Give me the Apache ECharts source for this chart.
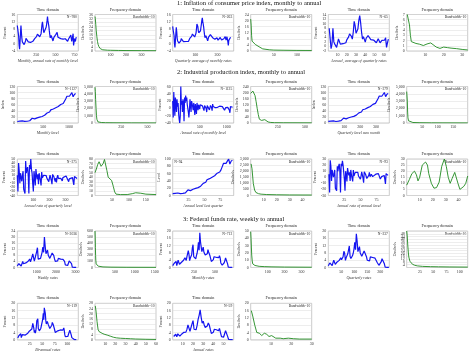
<!DOCTYPE html>
<html>
<head>
<meta charset="utf-8">
<script src="https://cdn.jsdelivr.net/npm/echarts@6/dist/echarts.min.js"></script>
<style>
html, body { margin: 0; padding: 0; background: #fff; }
#chart { width: 470px; height: 357px; }
</style>
</head>
<body>
<div id="chart"></div>
<script>
// ---- data ----
// 1: CPI inflation
var cpiMonthly = [10,8, 9,4, -1,-3, 1,6, 10,6, 3,1, 1,1, 0.5,-0.5, -0.5,0.5, 1.5,3, 3.5,3, 3,2, 1,1.5, 1.5,1.5, 1,0.7, 1.2,1.3,
  1.2,1.6, 1.3,1.2, 1.6,1.9, 2.8,3.5, 2.6,3, 3.9,4.7, 5.2,5.8, 6.1,5.6, 4.6,3.8, 3.2,3.5, 5.5,8, 10.5,12, 10,7.5, 6,5,
  6.5,6.6, 7,9, 10.5,12.5, 14.8,12.5, 11,9.5, 7,5, 3.2,3.5, 4.5,4, 3.5,3.5, 1.5,1.3, 3.5,4.3, 3.9,4.3, 5,4.6, 5,6.2,
  4.8,3.5, 3,3.1, 3,2.7, 2.5,2.8, 2.9,2.6, 2.9,3.3, 2.5,1.8, 1.5,1.6, 2,2.7, 3.5,3.4, 3.3,1.8, 1.3,2.2, 2.6,2.1,
  2.7,3.3, 3,4.7, 4,1.3, 2.5,4, 5.5,-1, -2,2.8, 2.2,1.2, 2.8,3.6];
var cpiQuarterly = [9.5,7.5, 8.5,4.5, 0,-2, 1.5,5.5, 9,6.5, 3,1.5, 1,0.8, 0.3,-0.3, -0.2,0.5, 1.6,2.8, 3.4,3.1, 2.8,2.1,
  1.1,1.5, 1.6,1.4, 1,0.8, 1.2,1.3, 1.2,1.5, 1.3,1.2, 1.6,2, 2.9,3.3, 2.7,3.1, 4,4.6, 5.3,5.7, 6,5.5, 4.5,3.7, 3.3,3.4,
  5.8,8.2, 10.8,11.8, 9.5,7.2, 6,5.1, 6.5,6.5, 7.1,9, 10.8,12.8, 14.2,12.2, 10.8,9.2, 6.8,4.8, 3.3,3.7, 4.4,4, 3.6,3.4,
  1.6,1.5, 3.6,4.3, 4,4.4, 5,4.6, 5.1,6, 4.7,3.3, 3,3.1, 3,2.8, 2.5,2.8, 2.9,2.6, 2.9,3.2, 2.4,1.9, 1.5,1.6, 2,2.6,
  3.4,3.4, 3.2,2, 1.4,2.2, 2.6,2.1, 2.7,3.3, 3.1,3.9, 3.6,2, 2.5,3.8, 4.8,1, -1,1.8, 2.1,1.3, 2.8,3.5];
var cpiAnnual = [8, 8, -1, 1, 8, 2, 1, 0.5, -0.4, 1.5, 3.3, 2.7, 1, 1.5, 1, 1.2, 1.2, 1.3, 1.6, 2.9, 3.1, 4.2, 5.5, 5.7,
  4.4, 3.2, 6.2, 11, 9.1, 5.8, 6.5, 7.6, 11.3, 13.5, 10.3, 6.2, 3.2, 4.3, 3.6, 1.9, 3.6, 4.1, 4.8, 5.4, 4.2, 3, 3, 2.6,
  2.8, 3, 2.3, 1.6, 2.2, 3.4, 2.8, 1.6, 2.3, 2.7, 3.4, 3.2, 2.8, 3.8, -0.4, 1.6, 3.2];
var cpiMonthlySpec = [[0,34],[2,32],[5,26],[8,20],[12,14],[16,9.5],[20,6.5],[25,4.3],[30,3],[35,2.2],[40,1.7],[50,1.2],
  [60,1],[80,0.8],[100,0.7],[150,0.55],[200,0.45],[300,0.35],[393,0.3]];
var cpiQuarterlySpec = [[0,21],[1,17],[2,10],[3,6.5],[5,5.6],[7,5.2],[10,4.3],[14,3.5],[18,2.8],[22,2],[26,1.4],[30,1.1],
  [40,0.8],[50,0.6],[70,0.5],[100,0.4],[132,0.35]];
var cpiAnnualSpec = [[0.3,7],[1,6.8],[1.5,5],[2,3],[2.5,1.8],[3,1.5],[5,1.45],[7,1.3],[9,1.05],[10,1],[11,1.35],[12,1.7],
  [13,1.55],[14,1.2],[16,0.75],[18,0.5],[20,0.75],[22,0.65],[24,0.55],[27,0.45],[30,0.3],[33,0.2]];

// 2: industrial production
var ipMonthly = [5, 4.3, 6, 6.3, 6.7, 7.5, 5.2, 4.8, 5.8, 7.5, 7.4, 11, 15.5, 13, 13.5, 13, 17, 19, 19.5, 21, 21.5, 22,
  25.5, 29.5, 33, 37, 36, 43, 40, 46, 51, 50, 49, 54, 56, 61, 60, 64, 70, 79, 88, 89, 88, 94, 100, 86, 94, 97];
var ipMonthlyRate = [20, -25, 45, 10, -20, 30, 15, -10, 25, 5, 15, -15, -30, -40, -20, 60, 10, 20, -10, 25, 15, -35, 30,
  15, 35, 20, 30, 10, 15, -10, -25, -5, 25, 10, -10, 20, 25, 5, -5, 15, 10, -18, 12, 8, -15, 15, 5, -5, 10, 8, -2, 10, 8,
  6, 10, 7, 2, 4, -6, 8, 10, 6, 0, -10, 8, 9, 4, 5, -4, -8, 8, 6, 2, -6, 12, 5, 4, 5, 4, 2, -3, 4, 5, 3, 6, 5, 4, 6, 6,
  5, 3, 4, 5, 7, 6, 4, -5, -2, 2, 3, 4, 3, 3, 4, 3, -5, -12, 5, 7, 4, 4, 3, 4];
var ipQuarterly = [5.1, 4.5, 6.1, 6.4, 6.8, 7.4, 5, 5, 6, 7.2, 7.6, 11.5, 15.8, 12.5, 13.6, 13.2, 17.3, 19.2, 19.8, 20.8,
  21.8, 22.5, 25.8, 29.8, 33.2, 37.4, 36.2, 43.5, 40.5, 46.2, 51.2, 50.5, 49.5, 54.2, 56.5, 61.2, 60.3, 64.5, 70.5,
  79.5, 88.5, 89.2, 88, 94.5, 100.2, 86.5, 94.5, 97];
var ipQuarterlyRate = [10, -30, 40, 20, -10, 15, 5, -5, 10, 20, -25, -30, -35, 45, 15, 25, 30, 10, -35, 35, 25, 50, 25,
  15, -10, -30, 20, 5, -15, 25, 10, 0, 12, -12, 15, 5, -3, -15, 18, 3, 2, 10, 6, 7, 10, 9, 3, 6, 5, -6, 3, 10, 9, -3,
  -12, 12, 8, 6, 4, -6, 3, -8, 5, 10, 2, 1, 6, 5, 2, 0, -4, 4, 4, 6, 5, 5, 8, 7, 5, 4, -6, 1, 2, 4, 3, 3, 4, -6, -14, 7,
  5, 4, 3, 2];
var ipAnnual = [5, 4.4, 6, 6.3, 6.8, 7.5, 5.2, 4.6, 5.9, 7.6, 7.3, 11.2, 15.6, 12.8, 13.4, 13.1, 17.1, 19.1, 19.6, 21,
  21.6, 22.2, 25.6, 29.6, 33.1, 37.2, 36.1, 43.2, 40.2, 46.1, 51.1, 50.2, 49.2, 54.1, 56.2, 61.1, 60.1, 64.2, 70.2, 79.2,
  88.2, 89.1, 88.1, 94.2, 100.1, 86.2, 94.2, 97];
var ipAnnualRate = [5, -25, 28, 18, -6, 12, 6, 0, 5, 12, -18, -15, -22, 18, 10, 18, 22, 10, -25, 22, 18, 27, 20, 18, -3,
  -22, 10, 4, -7, 15, 8, 3, 8, -6, 12, 4, 1, -7, 12, 2, 1, 8, 5, 6, 9, 8, 2, 5, 4, -3, 2, 9, 8, -1, -9, 9, 7, 5, 3, -2,
  1, -5, 3, 8, 1, 1, 5, 5, 1, 0, -2, 3, 3, 5, 5, 4, 7, 6, 4, 4, -3, 0, 1, 3, 3, 2, 3, -3, -11, 6, 4, 4, 3];
var ipMonthlySpec = [[0,4900],[3,4300],[6,3200],[10,2000],[14,1000],[18,500],[22,250],[28,150],[40,100],[60,70],
  [100,40],[200,25],[350,15],[580,10]];
var ipMonthlyRateSpec = [[0,195],[10,205],[20,210],[30,200],[40,180],[50,140],[60,95],[70,55],[80,25],[90,15],[100,17],
  [115,24],[130,22],[145,14],[160,7],[180,4],[220,2],[300,1.5],[562,1]];
var ipQuarterlySpec = [[0,4300],[1,4200],[2,3000],[3,1500],[4,700],[6,300],[8,200],[12,120],[20,70],[40,40],[80,20],
  [197,10]];
var ipQuarterlyRateSpec = [[0,50],[4,58],[8,68],[12,74],[15,72],[18,64],[21,62],[24,70],[28,79],[31,75],[35,55],[39,40],
  [44,37],[49,33],[54,20],[58,8],[62,3],[75,2],[95,2],[110,4],[120,6],[135,5],[150,3],[180,2]];
var ipAnnualSpec = [[0.3,2600],[1,2200],[2,1000],[3,450],[4,250],[6,150],[8,110],[12,80],[20,60],[30,45],[47,40]];
var ipAnnualRateSpec = [[0,8.5],[2,13],[4,18],[6,20],[7.5,17],[8.7,12],[10,15],[12,25],[14.5,27.5],[16,25],[17,18],
  [19,10],[21,6],[23,6.5],[25,11],[27,24],[29,30],[30.5,24],[32,15],[33.5,10],[35,14],[37,19],[38,18],[39.5,10],[41,5],
  [42.5,5],[44,7.5],[45.5,10],[47,16]];

// 3: federal funds rate
var ffWeekly = [1, 1.5, 2.5, 2.9, 3.5, 1, 2.5, 4, 2.5, 1.8, 2.5, 3, 3.5, 3.5, 4.1, 4.5, 5.6, 3.8, 5.2, 6.5, 9, 6.5, 4.2,
  3.5, 5.3, 10.5, 13, 5.5, 4.8, 5, 6, 7, 10, 13.5, 10, 20, 14, 9, 9.5, 11.5, 8, 8, 6, 6.8, 6.8, 9.5, 8.5, 8, 5.8, 4, 3,
  3, 4.3, 6, 5.5, 5.3, 5.5, 5.5, 4.8, 5.4, 6.5, 4, 1.7, 1.5, 1, 1.3, 2.8, 4.3, 5.25, 5.2, 2.5, 0.2, 0.1, 0.2, 0.1, 0.15,
  0.1];
var ffMonthly = [1, 1.4, 2.2, 2.8, 3, 3.4, 1, 2.5, 4, 3.2, 1.8, 2.2, 2.7, 2.9, 3.5, 3.5, 4, 4.3, 5.3, 4.6, 3.9, 6, 6.8,
  9.2, 7.2, 3.8, 5.2, 4.5, 7, 10.8, 12.5, 6, 5.5, 5.3, 4.7, 6.5, 7.8, 10.1, 13.8, 9.5, 19, 14, 14.2, 8.7, 9.4, 11.2, 8.5,
  8, 6.8, 6.1, 6.9, 7.5, 9.8, 8.5, 8.2, 6.4, 4.9, 3.3, 3, 3, 4.3, 5.9, 5.7, 5.3, 5.3, 5.5, 5.5, 4.8, 5.4, 6.5, 5.3, 2.5,
  1.7, 1.25, 1, 1.3, 2.6, 3.8, 5.2, 5.25, 4.5, 2, 0.18, 0.12, 0.18, 0.14, 0.07, 0.16, 0.14];
var ffQuarterly = [1, 1.5, 2.5, 2.9, 3.1, 1, 2.6, 4, 3, 1.7, 2.4, 2.9, 3.2, 3.5, 3.9, 4.3, 5.3, 4.2, 4.8, 5.9, 8.9, 7.8,
  3.9, 5.4, 4.4, 7.5, 9.6, 11.8, 6, 4.9, 4.7, 6.4, 7.8, 10.1, 13.8, 9.8, 18.5, 14.5, 8.7, 9.4, 11.4, 8, 7.8, 6.2, 6.7,
  6.6, 9.1, 8.6, 8.1, 5.9, 4, 3.1, 3, 3.6, 5.8, 5.8, 5.3, 5.5, 5.5, 5.1, 5.1, 6, 5.6, 2.6, 1.7, 1.2, 1, 1.9, 3.2, 4.8,
  5.25, 4.7, 2, 0.18, 0.12, 0.19, 0.09, 0.14, 0.13];
var ffBiannual = [1, 1.4,2.2, 2.6,2.8, 3,3.3, 1.2,1.9, 2.8,3.8, 3.8,2.5, 1.8,2, 2.6,2.8, 3,3.4, 3.45,3.6, 4,4.2, 4.7,5.4,
  4.3,3.9, 5.6,5.9, 7.5,9, 8.3,6.4, 4,5.2, 3.7,4.8, 7,10.4, 10.5,11.5, 6.2,5.9, 4.9,5.1, 4.7,6.2, 6.9,8.8, 10.1,11.8,
  14.5,11, 17.5,16, 14.5,10.5, 8.7,9.4, 10,10.5, 8.3,7.9, 7.4,6.2, 6.3,6.9, 6.8,8, 9.5,8.8, 8.2,8, 6.2,5.2, 4,3.1, 3,3,
  3.7,4.9, 5.9,5.7, 5.3,5.3, 5.4,5.6, 5.5,5.2, 4.8,5.3, 6,6.5, 5,2.8, 1.7,1.7, 1.25,1, 1,1.8, 2.7,3.6, 4.6,5.25,
  5.25,4.9, 2.6,1.2, 0.16,0.15, 0.15,0.19, 0.12,0.08, 0.14,0.15, 0.13,0.09];
var ffAnnual = [1.8, 2.7, 3.1, 1.6, 3.3, 3.2, 2, 2.7, 3.2, 3.5, 4.1, 5.1, 4.2, 5.7, 8.2, 7.2, 4.7, 4.4, 8.7, 10.5, 5.8, 5,
  5.5, 7.9, 11.2, 13.4, 16.4, 12.3, 9.1, 10.2, 8.1, 6.8, 6.7, 7.6, 9.2, 8.1, 5.7, 3.5, 3, 4.2, 5.8, 5.3, 5.5, 5.4, 5, 6.2,
  3.9, 1.7, 1.1, 1.4, 3.2, 5, 5, 1.9, 0.16, 0.18, 0.1, 0.14, 0.11];
var ffWeeklySpec = [[0,600],[5,500],[10,330],[15,200],[20,120],[30,60],[40,40],[60,28],[80,22],[120,15],[200,10],[400,6],
  [800,4],[1530,3]];
var ffMonthlySpec = [[0,49],[2,40],[4,28],[6,17],[9,9],[12,5],[18,3.5],[25,2.8],[35,2],[50,1.6],[80,1.2],[120,0.9],
  [200,0.6],[360,0.4]];
var ffQuarterlySpec = [[0,52],[1,45],[2,32],[3,22],[4,15],[6,9],[8,6.5],[11,4.5],[15,3.2],[20,2.3],[30,1.6],[45,1.2],
  [60,1],[80,0.8],[115,0.6]];
var ffBiannualSpec = [[0.3,26],[1,22],[2,14],[3,8],[4,6.3],[5,5.8],[7,5],[9,4.3],[12,3.6],[15,2.8],[18,2],[21,1.5],
  [25,1.2],[30,1],[35,0.8],[40,0.6],[50,0.4],[60,0.3]];
var ffAnnualSpec = [[0.3,16],[1,13],[2,8],[3,4],[4.3,3.6],[5.4,2.3],[6.7,3.6],[7.9,3],[9,1.8],[10.3,2.3],[11.2,1.8],
  [12.3,0.9],[14.5,0.9],[16,0.6],[18.5,0.9],[21,0.6],[24,0.4],[30,0.4]];

var sectionTitles = [
  '1: Inflation of consumer price index, monthly to annual',
  '2: Industrial production index, monthly to annual',
  '3: Federal funds rate, weekly to annual'
];

// ---- layout ----
var FONT = '"Liberation Serif", "DejaVu Serif", serif';
var BLUE = '#1414f0', GREEN = '#1f8a1f';
var colLeft = [17.3, 95, 172.7, 250.7, 328.3, 406.7];
var rowTop = [14.5, 86.5, 159, 231, 303.3];
var plotW = 61, plotH = 36.5;

// t = time domain (values with step), f = frequency domain (x,y pairs)
var panels = [
  {r:0,c:0,t:cpiMonthly,step:6,xMax:800,xi:250,y:[-4,16,4],yName:'Percent',xName:'Monthly, annual rate of monthly level',note:'N=780'},
  {r:0,c:1,f:cpiMonthlySpec,xMax:393,xi:100,y:[0,36,4]},
  {r:0,c:2,t:cpiQuarterly,step:2,xMax:272,xi:100,y:[-4,16,4],yName:'Percent',xName:'Quarterly average of monthly rates',note:'N=263'},
  {r:0,c:3,f:cpiQuarterlySpec,xMax:132,xi:50,y:[0,24,4]},
  {r:0,c:4,t:cpiAnnual,step:1,x0:1,xMax:66,xi:10,y:[-2,14,2],yName:'Percent',xName:'Annual, average of quarterly rates',note:'N=65'},
  {r:0,c:5,f:cpiAnnualSpec,xMax:33,xi:10,y:[0,7,1]},

  {r:1,c:0,t:ipMonthly,step:24,xMax:1180,xi:500,y:[0,120,20],yName:'Index',xName:'Monthly level',note:'N=1127'},
  {r:1,c:1,f:ipMonthlySpec,xMax:580,xi:250,y:[0,5000,1000]},
  {r:1,c:2,t:ipMonthlyRate,step:10,xMax:1130,xi:500,y:[-40,60,20],yName:'Percent',xName:'Annual rate of monthly level',note:'N=1125'},
  {r:1,c:3,f:ipMonthlyRateSpec,xMax:562,xi:250,y:[0,240,40]},
  {r:1,c:4,t:ipQuarterly,step:8,xMax:383,xi:100,y:[0,120,20],yName:'Index',xName:'Quarterly level sum month',note:'N=379'},
  {r:1,c:5,f:ipQuarterlySpec,xMax:197,xi:50,y:[0,5000,1000]},

  {r:2,c:0,t:ipQuarterlyRate,step:4,xMax:380,xi:100,y:[-40,50,10],yName:'Percent',xName:'Annual rate of quarterly level',note:'N=375'},
  {r:2,c:1,f:ipQuarterlyRateSpec,xMax:180,xi:50,y:[0,80,10]},
  {r:2,c:2,t:ipAnnual,step:2,xMax:96,xi:25,y:[0,100,20],yName:'Level',xName:'Annual level last quarter',note:'N=94',noteLeft:true},
  {r:2,c:3,f:ipAnnualSpec,xMax:47,xi:10,y:[0,3000,500]},
  {r:2,c:4,t:ipAnnualRate,step:1,x0:1,xMax:95,xi:25,y:[-30,30,10],yName:'Percent',xName:'Annual rate of annual level',note:'N=93'},
  {r:2,c:5,f:ipAnnualRateSpec,xMax:47,xi:10,y:[0,30,5]},

  {r:3,c:0,t:ffWeekly,step:40,xMax:3150,xi:1000,y:[0,24,4],yName:'Percent',xName:'Weekly rates',note:'N=3036'},
  {r:3,c:1,f:ffWeeklySpec,xMax:1530,xi:500,y:[0,600,100]},
  {r:3,c:2,t:ffMonthly,step:8,xMax:720,xi:250,y:[0,20,4],yName:'Percent',xName:'Monthly rates',note:'N=712'},
  {r:3,c:3,f:ffMonthlySpec,xMax:360,xi:100,y:[0,50,10]},
  {r:3,c:4,t:ffQuarterly,step:3,xMax:235,xi:50,y:[0,20,4],yName:'Percent',xName:'Quarterly rates',note:'N=237'},
  {r:3,c:5,f:ffQuarterlySpec,xMax:115,xi:25,y:[0,52,4]},

  {r:4,c:0,t:ffBiannual,step:1,x0:1,xMax:122,xi:25,y:[0,20,4],yName:'Percent',xName:'Bi-annual rates',note:'N=119'},
  {r:4,c:1,f:ffBiannualSpec,xMax:60,xi:10,y:[0,28,4],showMax:true},
  {r:4,c:2,t:ffAnnual,step:1,x0:1,xMax:60,xi:10,y:[0,20,4],yName:'Percent',xName:'Annual rates',note:'N=59'},
  {r:4,c:3,f:ffAnnualSpec,xMax:30,xi:10,y:[0,20,4],showMax:true}
];

// y labels get a thousands comma, x labels do not
function fmt(v) { return v.toLocaleString('en-US'); }
function plain(v) { return String(v); }

var grids = [], xAxes = [], yAxes = [], series = [], graphics = [];

sectionTitles.forEach(function (s, i) {
  var ty = [3.5, 72.5, 219][i], tx = [177, 177, 183][i];
  graphics.push({type:'text', x:tx, y:ty, silent:true,
    style:{text:s, fill:'#111', font:'6.5px ' + FONT, align:'left', verticalAlign:'middle'}});
});

panels.forEach(function (p, i) {
  var left = colLeft[p.c], top = rowTop[p.r];
  var isTime = !!p.t;
  var data = isTime ? p.t.map(function (v, k) { return [(p.x0 || 0) + k * p.step, v]; }) : p.f;
  var chars = Math.max(fmt(p.y[0]).length, fmt(p.y[1]).length);

  grids.push({left:left, top:top, width:plotW, height:plotH, show:true,
    borderColor:'#a8a8a8', borderWidth:0.6, backgroundColor:'#fff'});
  xAxes.push({gridIndex:i, type:'value', min:0, max:p.xMax, interval:p.xi,
    axisLine:{show:false}, axisTick:{show:false}, splitLine:{show:false},
    axisLabel:{fontSize:4, color:'#333', fontFamily:FONT, margin:2,
      showMinLabel:false, showMaxLabel:!!p.showMax, formatter:plain},
    name:isTime ? p.xName : '', nameLocation:'middle', nameGap:8,
    nameTextStyle:{fontSize:4, fontStyle:'italic', color:'#333', fontFamily:FONT}});
  yAxes.push({gridIndex:i, type:'value', min:p.y[0], max:p.y[1], interval:p.y[2],
    axisLine:{show:false}, axisTick:{show:false},
    splitLine:{show:true, lineStyle:{color:'#dadada', width:0.5}},
    axisLabel:{fontSize:4, color:'#333', fontFamily:FONT, margin:2, formatter:fmt},
    name:isTime ? p.yName : 'Decibels', nameLocation:'middle', nameGap:4 + chars * 2.3,
    nameTextStyle:{fontSize:4, color:'#333', fontFamily:FONT}});
  series.push({type:'line', xAxisIndex:i, yAxisIndex:i, data:data, showSymbol:false,
    symbol:'none', animation:false, silent:true,
    lineStyle:{color:isTime ? BLUE : GREEN, width:isTime ? 1.2 : 0.9}});

  graphics.push({type:'text', x:left + plotW / 2, y:top - 5, silent:true,
    style:{text:isTime ? 'Time domain' : 'Frequency domain', fill:'#222', font:'4.2px ' + FONT,
      align:'center', verticalAlign:'middle'}});
  var note = isTime ? p.note : 'Bandwidth=10';
  graphics.push({type:'text', x:p.noteLeft ? left + 1.5 : left + plotW - 1.5, y:top + 3, silent:true,
    style:{text:note, fill:'#222', font:'3.6px ' + FONT,
      align:p.noteLeft ? 'left' : 'right', verticalAlign:'middle'}});
});

var chart = echarts.init(document.getElementById('chart'), null, {renderer:'canvas'});
chart.setOption({
  animation:false,
  backgroundColor:'#fff',
  grid:grids,
  xAxis:xAxes,
  yAxis:yAxes,
  series:series,
  graphic:graphics
});
</script>
</body>
</html>
